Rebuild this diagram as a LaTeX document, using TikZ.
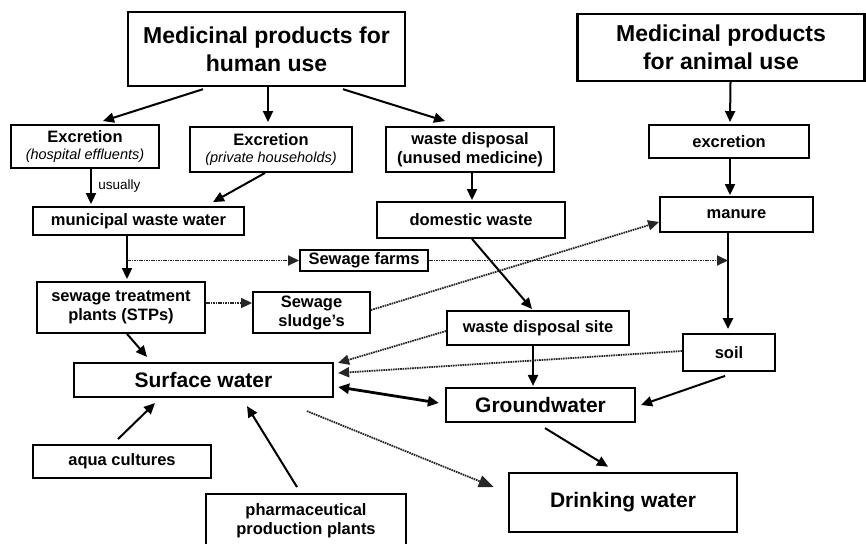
\documentclass[tikz,border=0pt]{standalone}
\usepackage{fontspec}
\setmainfont{Liberation Sans}
\usetikzlibrary{arrows.meta,calc}
\begin{document}
\begin{tikzpicture}[x=1pt,y=-1pt,
  box/.style={draw, line width=1.9pt, inner sep=0pt, align=center, font=\bfseries\fontsize{16.5}{19}\selectfont},
  bigbox/.style={box, line width=2.2pt, font=\bfseries\fontsize{21}{25}\selectfont},
  titlebox/.style={box, line width=2.4pt, font=\bfseries\fontsize{23}{28}\selectfont},
  arr/.style={line width=2pt, -{Triangle[length=11pt,width=10pt]}},
  thickarr/.style={arr, line width=2.8pt},
  dotarr/.style={arr, line width=1.8pt, black!85, dash pattern=on 1.6pt off 0.8pt},
  sub/.style={font=\mdseries\itshape\fontsize{14.5}{17}\selectfont}
]
\useasboundingbox (0,0) rectangle (866,543);
% nodes
\node[titlebox, minimum width=277pt, minimum height=74pt] (human) at (266.5,49) {Medicinal products for\\human use};
\node[titlebox, minimum width=287pt, minimum height=67pt] (animal) at (721,47.5) {Medicinal products\\for animal use};
\node[box, minimum width=148pt, minimum height=43pt] (hosp) at (85,146.5) {Excretion\\[-2pt]{\mdseries\itshape\fontsize{14.5}{17}\selectfont (hospital effluents)}};
\node[box, minimum width=162pt, minimum height=45pt] (priv) at (271,149.5) {Excretion\\[-2pt]{\mdseries\itshape\fontsize{14.5}{17}\selectfont (private households)}};
\node[box, minimum width=168pt, minimum height=45pt] (wdisp) at (470,149.5) {waste disposal\\(unused medicine)};
\node[box, minimum width=160pt, minimum height=33pt] (aexcr) at (729,141.5) {excretion};
\node[box, minimum width=211pt, minimum height=28pt] (muni) at (138.5,221) {municipal waste water};
\node[box, minimum width=188pt, minimum height=36pt] (domw) at (471,220) {domestic waste};
\node[box, minimum width=153pt, minimum height=35pt] (manure) at (736.5,214.5) {manure};
\node[box, minimum width=128pt, minimum height=21pt] (sfarms) at (364,260.5) {Sewage farms};
\node[box, minimum width=168pt, minimum height=51pt] (stp) at (121,307.5) {sewage treatment\\plants (STPs)};
\node[box, minimum width=117pt, minimum height=41pt] (sludge) at (311.5,312.5) {Sewage\\sludge's};
\node[box, minimum width=182pt, minimum height=34pt] (wsite) at (538,328) {waste disposal site};
\node[box, minimum width=92pt, minimum height=37pt] (soil) at (729,352.5) {soil};
\node[bigbox, minimum width=259pt, minimum height=34pt] (surf) at (203.5,380) {Surface water};
\node[bigbox, minimum width=189pt, minimum height=34pt] (ground) at (540.5,405) {Groundwater};
\node[bigbox, line width=2.6pt, minimum width=228pt, minimum height=59pt] (drink) at (623,502.5) {Drinking water};
\node[box, minimum width=178pt, minimum height=33pt] (aqua) at (122,461.5) {aqua cultures};
\node[box, minimum width=200pt, minimum height=53pt] (pharma) at (306,520.5) {pharmaceutical\\production plants};
% helper coordinates
\coordinate (mstp) at ([xshift=-11.5pt]muni.south);
\coordinate (msoil) at ([xshift=-8.5pt]manure.south);
% solid arrows
\draw[arr] ([xshift=-63.5pt,yshift=-2pt]human.south) -- ([xshift=18pt,yshift=3pt]hosp.north);
\draw[arr] ([xshift=1.5pt]human.south) -- ([xshift=-3pt,yshift=4pt]priv.north);
\draw[arr] ([xshift=76.5pt,yshift=-2pt]human.south) -- ([xshift=-25pt,yshift=5pt]wdisp.north);
\draw[arr] ([xshift=6pt]hosp.south) -- node[right, xshift=3pt, font=\fontsize{13.5}{15}\selectfont]{usually} ([xshift=-47.5pt,yshift=2pt]muni.north);
\draw[arr] ([xshift=-6pt]priv.south) -- ([xshift=74.5pt,yshift=4pt]muni.north);
\draw[arr] ([xshift=2pt]wdisp.south) -- ([xshift=1pt,yshift=1pt]domw.north);
\draw[arr] ([xshift=9.5pt]animal.south) -- ([xshift=1pt,yshift=2pt]aexcr.north);
\draw[arr] ([xshift=1pt]aexcr.south) -- ([xshift=-6.5pt,yshift=1pt]manure.north);
\draw[thickarr] (msoil) -- ([xshift=-1pt,yshift=4pt]soil.north);
\draw[arr] (mstp) -- ([xshift=6pt,yshift=2pt]stp.north);
\draw[arr] ([xshift=1pt]domw.south) -- ([xshift=-6pt,yshift=1pt]wsite.north);
\draw[arr] ([xshift=6pt]stp.south) -- ([xshift=-56.5pt,yshift=5pt]surf.north);
\draw[thickarr, {Triangle[length=11pt,width=10pt]}-{Triangle[length=11pt,width=10pt]}] ([xshift=4pt,yshift=-7pt]surf.east) -- ([xshift=-6pt,yshift=2pt]ground.west);
\draw[arr] ([xshift=-5pt]wsite.south) -- ([xshift=-7.5pt,yshift=1pt]ground.north);
\draw[arr] ([xshift=-4pt,yshift=-4pt]soil.south) -- ([xshift=5pt]ground.east);
\draw[arr] ([xshift=4.5pt,yshift=-5pt]ground.south) -- ([xshift=-15pt,yshift=5pt]drink.north);
\draw[arr] ([xshift=-4pt,yshift=5pt]aqua.north) -- ([xshift=-48.5pt,yshift=-5pt]surf.south);
\draw[arr] ([xshift=-9pt,yshift=6pt]pharma.north) -- ([xshift=43.5pt,yshift=-8pt]surf.south);
% dotted arrows
\draw[dotarr] (mstp |- sfarms.west) -- (sfarms.west);
\draw[dotarr] (sfarms.east) -- (msoil |- sfarms.east);
\draw[dotarr] ([yshift=4.5pt]stp.east) -- ([yshift=4.5pt]stp.east -| sludge.west);
\draw[dotarr] ([yshift=2.5pt]sludge.east) -- ([yshift=-7.5pt]manure.west);
\draw[dotarr] ([yshift=-3pt]wsite.west) -- ([xshift=4pt,yshift=-1pt]surf.north east);
\draw[dotarr] ([yshift=1.5pt]soil.west) -- ([xshift=4pt,yshift=7pt]surf.east);
\draw[dotarr, -{Triangle[length=15pt,width=12pt]}] ([xshift=103.5pt,yshift=-13pt]surf.south) -- ([xshift=-14pt,yshift=15.5pt]drink.west);
\end{tikzpicture}
\end{document}
